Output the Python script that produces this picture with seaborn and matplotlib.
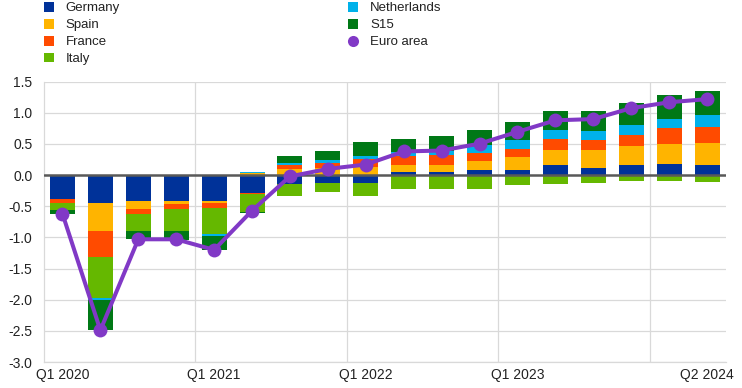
import numpy as np
import pandas as pd
import matplotlib
matplotlib.use("Agg")
from matplotlib import pyplot as plt
from matplotlib.patches import Patch
from matplotlib.lines import Line2D
from matplotlib.ticker import MultipleLocator, FormatStrFormatter
import seaborn as sns

# quarterly contributions (percentage points), Q1 2020 - Q2 2024
quarters = ['Q1 2020', 'Q2 2020', 'Q3 2020', 'Q4 2020',
            'Q1 2021', 'Q2 2021', 'Q3 2021', 'Q4 2021',
            'Q1 2022', 'Q2 2022', 'Q3 2022', 'Q4 2022',
            'Q1 2023', 'Q2 2023', 'Q3 2023', 'Q4 2023',
            'Q1 2024', 'Q2 2024']

germany = [-0.39, -0.44, -0.41, -0.41, -0.41, -0.28, -0.15, -0.12, -0.12,
           0.05, 0.05, 0.075, 0.08, 0.16, 0.11, 0.16, 0.18, 0.16]
spain = [0.0, -0.45, -0.13, -0.05, -0.03, 0.03, 0.10, 0.11, 0.13,
         0.12, 0.12, 0.145, 0.21, 0.24, 0.30, 0.30, 0.32, 0.35]
france = [-0.05, -0.43, -0.09, -0.08, -0.09, -0.03, 0.065, 0.09, 0.13,
          0.13, 0.15, 0.13, 0.13, 0.18, 0.16, 0.19, 0.25, 0.27]
italy = [-0.12, -0.65, -0.26, -0.35, -0.42, -0.285, -0.19, -0.155, -0.22,
         -0.215, -0.23, -0.23, -0.16, -0.145, -0.13, -0.10, -0.10, -0.11]
netherlands = [0.0, -0.03, 0.0, 0.0, -0.02, 0.02, 0.035, 0.04, 0.045,
               0.075, 0.06, 0.13, 0.14, 0.145, 0.145, 0.16, 0.155, 0.18]
s15 = [-0.065, -0.49, -0.14, -0.15, -0.235, -0.02, 0.115, 0.155, 0.22,
       0.21, 0.255, 0.25, 0.29, 0.305, 0.32, 0.355, 0.385, 0.385]
euro_area = [-0.62, -2.49, -1.03, -1.03, -1.2, -0.57, -0.02, 0.10, 0.17,
             0.38, 0.395, 0.505, 0.695, 0.88, 0.90, 1.075, 1.17, 1.22]

tick_pos = [0, 4, 8, 12, 17]
tick_text = ['Q1 2020', 'Q1 2021', 'Q1 2022', 'Q1 2023', 'Q2 2024']

countries = ['Germany', 'Spain', 'France', 'Italy', 'Netherlands', 'S15']
series = [germany, spain, france, italy, netherlands, s15]
colors = ['#003299', '#ffb400', '#ff4b00', '#65b800', '#00b1ea', '#007816']
purple = '#8139c6'

sns.set_style('white')
plt.rcParams['font.family'] = ['Liberation Sans', 'DejaVu Sans']
plt.rcParams['axes.unicode_minus'] = False

fig = plt.figure(figsize=(7.42, 3.88), dpi=100)
ax = fig.add_axes([43.5 / 742, 1 - 362 / 388, (726 - 43.5) / 742, (362 - 81.7) / 388])

# stacked bars: positives pile up from zero, negatives pile down
pos_base = np.zeros(len(quarters))
neg_base = np.zeros(len(quarters))
for name, vals, col in zip(countries, series, colors):
    vals = np.array(vals)
    bottom = np.where(vals >= 0, pos_base, neg_base)
    df = pd.DataFrame({'quarter': quarters, 'value': vals})
    sns.barplot(data=df, x='quarter', y='value', color=col, saturation=1,
                width=0.66, errorbar=None, bottom=bottom, linewidth=0,
                zorder=2, ax=ax)
    pos_base += np.clip(vals, 0, None)
    neg_base += np.clip(vals, None, 0)

ax.axhline(0, color='#595959', lw=1.8, zorder=3)

sns.pointplot(x=quarters, y=euro_area, color=purple, errorbar=None,
              markersize=10, linewidth=2.9, markeredgewidth=0, zorder=4, ax=ax)

# grid and axes
ax.set_ylim(-3, 1.5)
ax.set_xlim(-0.5, len(quarters) - 0.5)
ax.yaxis.set_major_locator(MultipleLocator(0.5))
ax.yaxis.set_major_formatter(FormatStrFormatter('%.1f'))
ax.yaxis.grid(True, color='#d9d9d9', lw=0.9)
ax.set_axisbelow(True)
for b in [3.5, 7.5, 11.5, 15.5]:
    ax.axvline(b, color='#d9d9d9', lw=0.9, zorder=0)
for s in ['top', 'right']:
    ax.spines[s].set_visible(False)
for s in ['left', 'bottom']:
    ax.spines[s].set_color('#d9d9d9')
    ax.spines[s].set_linewidth(0.9)

ax.set_xticks(tick_pos)
ax.set_xticklabels(tick_text)
ax.set_xlabel('')
ax.set_ylabel('')
ax.tick_params(axis='both', length=0, labelcolor='#222222')
ax.tick_params(axis='y', pad=8)
ax.tick_params(axis='x', pad=4)
for lab in ax.get_xticklabels() + ax.get_yticklabels():
    lab.set_fontsize(10)

# legend
handles = [Patch(facecolor=c, edgecolor='none') for c in colors]
handles.append(Line2D([], [], marker='o', color=purple, linestyle='none',
                      markersize=8, markeredgewidth=0))
labels = countries + ['Euro area']
fig.legend(handles, labels, loc='upper left', bbox_to_anchor=(44 / 742, 1 - 2 / 388),
           ncol=2, frameon=False, fontsize=9.5, handlelength=0.75,
           handleheight=0.75, handletextpad=0.9, labelspacing=0.34,
           columnspacing=17.3, borderpad=0, borderaxespad=0,
           labelcolor='#222222')

fig.savefig('out.png', dpi=100)
